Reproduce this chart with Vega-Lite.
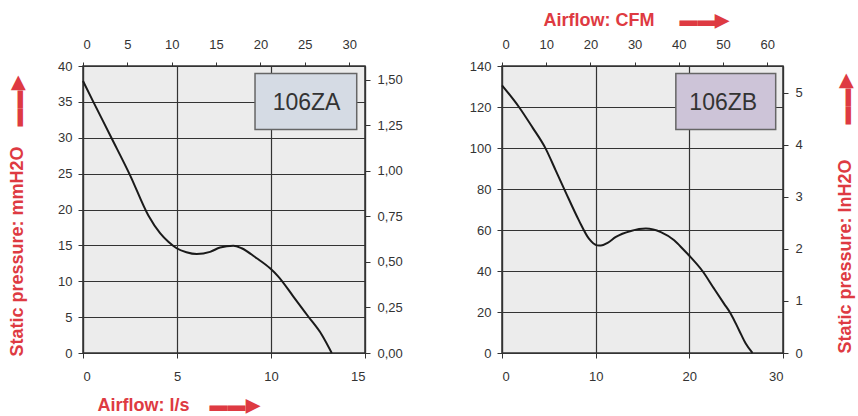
{
  "$schema": "https://vega.github.io/schema/vega-lite/v6.json",
  "background": "white",
  "padding": {"left": 7, "top": 10, "right": 5, "bottom": 5},
  "spacing": 64,
  "datasets": {
    "za": [
      {"q": 0, "p": 37.9}, {"q": 0.55, "p": 35.0}, {"q": 1.53, "p": 29.9}, {"q": 2.5, "p": 24.8},
      {"q": 3.47, "p": 19.2}, {"q": 4.1, "p": 16.7}, {"q": 4.54, "p": 15.5}, {"q": 4.98, "p": 14.6},
      {"q": 5.5, "p": 14.05}, {"q": 6.05, "p": 13.8}, {"q": 6.76, "p": 14.1}, {"q": 7.29, "p": 14.7},
      {"q": 8.0, "p": 14.96}, {"q": 8.44, "p": 14.6}, {"q": 9.24, "p": 13.2}, {"q": 9.95, "p": 11.8},
      {"q": 10.39, "p": 10.65}, {"q": 11.19, "p": 7.87}, {"q": 11.98, "p": 5.09}, {"q": 12.7, "p": 2.55},
      {"q": 13.23, "p": 0}
    ],
    "zb": [
      {"q": 0, "p": 130.6}, {"q": 1.81, "p": 120.0}, {"q": 3.23, "p": 110.2}, {"q": 4.66, "p": 99.7},
      {"q": 5.73, "p": 89.1}, {"q": 6.79, "p": 78.5}, {"q": 8.21, "p": 64.7}, {"q": 9.28, "p": 55.8},
      {"q": 10.17, "p": 52.5}, {"q": 10.56, "p": 52.4}, {"q": 11.27, "p": 53.7}, {"q": 12.16, "p": 56.6},
      {"q": 13.76, "p": 59.5}, {"q": 15.36, "p": 60.7}, {"q": 16.96, "p": 59.0}, {"q": 18.38, "p": 55.0},
      {"q": 19.44, "p": 50.1}, {"q": 20.05, "p": 47.2}, {"q": 21.4, "p": 40.0}, {"q": 22.64, "p": 31.4},
      {"q": 23.7, "p": 24.1}, {"q": 24.42, "p": 19.2}, {"q": 25.31, "p": 11.1}, {"q": 26.02, "p": 4.6},
      {"q": 26.74, "p": 0}
    ],
    "boxa": [{"x1": 9.15, "x2": 14.56, "y1": 31.15, "y2": 38.94, "cx": 11.89, "cy": 34.9, "label": "106ZA"}],
    "boxb": [{"x1": 18.56, "x2": 29.22, "y1": 109.0, "y2": 136.3, "cx": 23.62, "cy": 122.0, "label": "106ZB"}]
  },
  "hconcat": [
    {
      "width": 282,
      "height": 287,
      "layer": [
        {
          "layer": [
            {
              "data": {"name": "za"},
              "mark": {"type": "line", "interpolate": "monotone", "color": "#1a1a1a", "strokeWidth": 2},
              "encoding": {
                "x": {"field": "q", "type": "quantitative", "scale": {"domain": [0, 15], "nice": false},
                  "axis": {"values": [0, 5, 10, 15], "grid": true, "labelOverlap": false, "tickSize": 5, "labelPadding": 12,
                    "title": "Airflow: l/s\u00a0\u00a0\u00a0\u00a0\u25ac\u25ac\u25b6", "titleAnchor": "start", "titleAlign": "left", "titleX": 14, "titlePadding": 13}},
                "y": {"field": "p", "type": "quantitative", "scale": {"domain": [0, 40], "nice": false},
                  "axis": {"values": [0, 5, 10, 15, 20, 25, 30, 35, 40], "grid": true, "labelOverlap": false, "tickSize": 5, "labelPadding": 6,
                    "title": "Static pressure: mmH2O\u00a0\u00a0\u00a0\u00a0\u25ac\u25ac\u25b6", "titleAngle": -90, "titleAlign": "left", "titleY": 290, "titlePadding": 31}}
              }
            },
            {
              "data": {"name": "boxa"},
              "mark": {"type": "rect", "fill": "#d5dbe4", "stroke": "#666", "strokeWidth": 1.5},
              "encoding": {
                "x": {"field": "x1", "type": "quantitative", "scale": {"domain": [0, 15], "nice": false},
                  "axis": {"values": [0, 5, 10, 15], "grid": true, "labelOverlap": false, "tickSize": 5, "labelPadding": 12,
                    "title": "Airflow: l/s\u00a0\u00a0\u00a0\u00a0\u25ac\u25ac\u25b6", "titleAnchor": "start", "titleAlign": "left", "titleX": 14, "titlePadding": 13}},
                "x2": {"field": "x2"},
                "y": {"field": "y1", "type": "quantitative", "scale": {"domain": [0, 40], "nice": false},
                  "axis": {"values": [0, 5, 10, 15, 20, 25, 30, 35, 40], "grid": true, "labelOverlap": false, "tickSize": 5, "labelPadding": 6,
                    "title": "Static pressure: mmH2O\u00a0\u00a0\u00a0\u00a0\u25ac\u25ac\u25b6", "titleAngle": -90, "titleAlign": "left", "titleY": 290, "titlePadding": 31}},
                "y2": {"field": "y2"}
              }
            },
            {
              "data": {"name": "boxa"},
              "mark": {"type": "text", "font": "Liberation Sans", "fontSize": 23, "color": "#333", "baseline": "middle", "align": "center"},
              "encoding": {
                "x": {"field": "cx", "type": "quantitative", "scale": {"domain": [0, 15], "nice": false},
                  "axis": {"values": [0, 5, 10, 15], "grid": true, "labelOverlap": false, "tickSize": 5, "labelPadding": 12,
                    "title": "Airflow: l/s\u00a0\u00a0\u00a0\u00a0\u25ac\u25ac\u25b6", "titleAnchor": "start", "titleAlign": "left", "titleX": 14, "titlePadding": 13}},
                "y": {"field": "cy", "type": "quantitative", "scale": {"domain": [0, 40], "nice": false},
                  "axis": {"values": [0, 5, 10, 15, 20, 25, 30, 35, 40], "grid": true, "labelOverlap": false, "tickSize": 5, "labelPadding": 6,
                    "title": "Static pressure: mmH2O\u00a0\u00a0\u00a0\u00a0\u25ac\u25ac\u25b6", "titleAngle": -90, "titleAlign": "left", "titleY": 290, "titlePadding": 31}},
                "text": {"field": "label"}
              }
            }
          ]
        },
        {
          "data": {"name": "boxa"},
          "mark": {"type": "point", "opacity": 0},
          "encoding": {
            "x": {"datum": 0, "type": "quantitative", "scale": {"domain": [0, 31.78], "nice": false},
              "axis": {"orient": "top", "values": [0, 5, 10, 15, 20, 25, 30], "labelOverlap": false, "grid": false, "tickSize": 4, "labelPadding": 11, "title": null}},
            "y": {"datum": 0, "type": "quantitative", "scale": {"domain": [0, 1.5748], "nice": false},
              "axis": {"orient": "right", "values": [0, 0.25, 0.5, 0.75, 1, 1.25, 1.5], "labelOverlap": false, "grid": false, "tickSize": 5, "labelPadding": 7,
                "labelExpr": "replace(format(datum.value, '.2f'), '.', ',')", "title": null}}
          }
        }
      ],
      "resolve": {"scale": {"x": "independent", "y": "independent"}}
    },
    {
      "width": 281,
      "height": 287,
      "layer": [
        {
          "layer": [
            {
              "data": {"name": "zb"},
              "mark": {"type": "line", "interpolate": "monotone", "color": "#1a1a1a", "strokeWidth": 2},
              "encoding": {
                "x": {"field": "q", "type": "quantitative", "scale": {"domain": [0, 30], "nice": false},
                  "axis": {"values": [0, 10, 20, 30], "grid": true, "labelOverlap": false, "tickSize": 5, "labelPadding": 12, "title": null}},
                "y": {"field": "p", "type": "quantitative", "scale": {"domain": [0, 140], "nice": false},
                  "axis": {"values": [0, 20, 40, 60, 80, 100, 120, 140], "grid": true, "labelOverlap": false, "tickSize": 5, "labelPadding": 6, "title": null}}
              }
            },
            {
              "data": {"name": "boxb"},
              "mark": {"type": "rect", "fill": "#cdc4d8", "stroke": "#666", "strokeWidth": 1.5},
              "encoding": {
                "x": {"field": "x1", "type": "quantitative", "scale": {"domain": [0, 30], "nice": false},
                  "axis": {"values": [0, 10, 20, 30], "grid": true, "labelOverlap": false, "tickSize": 5, "labelPadding": 12, "title": null}},
                "x2": {"field": "x2"},
                "y": {"field": "y1", "type": "quantitative", "scale": {"domain": [0, 140], "nice": false},
                  "axis": {"values": [0, 20, 40, 60, 80, 100, 120, 140], "grid": true, "labelOverlap": false, "tickSize": 5, "labelPadding": 6, "title": null}},
                "y2": {"field": "y2"}
              }
            },
            {
              "data": {"name": "boxb"},
              "mark": {"type": "text", "font": "Liberation Sans", "fontSize": 23, "color": "#333", "baseline": "middle", "align": "center"},
              "encoding": {
                "x": {"field": "cx", "type": "quantitative", "scale": {"domain": [0, 30], "nice": false},
                  "axis": {"values": [0, 10, 20, 30], "grid": true, "labelOverlap": false, "tickSize": 5, "labelPadding": 12, "title": null}},
                "y": {"field": "cy", "type": "quantitative", "scale": {"domain": [0, 140], "nice": false},
                  "axis": {"values": [0, 20, 40, 60, 80, 100, 120, 140], "grid": true, "labelOverlap": false, "tickSize": 5, "labelPadding": 6, "title": null}},
                "text": {"field": "label"}
              }
            }
          ]
        },
        {
          "data": {"name": "boxb"},
          "mark": {"type": "point", "opacity": 0},
          "encoding": {
            "x": {"datum": 0, "type": "quantitative", "scale": {"domain": [0, 63.57], "nice": false},
              "axis": {"orient": "top", "values": [0, 10, 20, 30, 40, 50, 60], "labelOverlap": false, "grid": false, "tickSize": 4, "labelPadding": 11,
                "title": "Airflow: CFM\u00a0\u00a0\u00a0\u00a0\u00a0\u25ac\u25ac\u25b6", "titleAnchor": "start", "titleAlign": "left", "titleX": 41, "titlePadding": 9}},
            "y": {"datum": 0, "type": "quantitative", "scale": {"domain": [0, 5.512], "nice": false},
              "axis": {"orient": "right", "values": [0, 1, 2, 3, 4, 5], "labelOverlap": false, "grid": false, "tickSize": 5, "labelPadding": 7,
                "title": "Static pressure: InH2O\u00a0\u00a0\u00a0\u00a0\u00a0\u00a0\u00a0\u25ac\u25ac\u25b6", "titleAngle": -90, "titleAlign": "left", "titleY": 287, "titlePadding": 52}}
          }
        }
      ],
      "resolve": {"scale": {"x": "independent", "y": "independent"}}
    }
  ],
  "config": {
    "view": {"fill": "#ececec", "stroke": "#333", "strokeWidth": 1.5},
    "axis": {
      "labelFont": "Liberation Sans", "labelFontSize": 13, "labelColor": "#333",
      "tickColor": "#333", "domainColor": "#333", "domainWidth": 1.2,
      "gridColor": "#333", "gridWidth": 1.2, "gridOpacity": 1,
      "titleFont": "Liberation Sans", "titleFontWeight": "bold", "titleFontSize": 18, "titleColor": "#de3a42"
    }
  }
}
